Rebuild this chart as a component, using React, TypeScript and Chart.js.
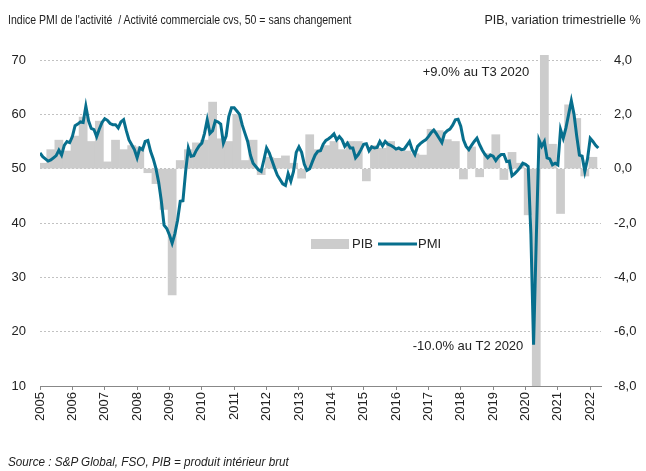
import React, { useEffect, useRef } from 'react';
import { Chart, registerables } from 'chart.js';

Chart.register(...registerables);

const FONT = '"Liberation Sans", Arial, sans-serif';

const YEARS = [2005, 2006, 2007, 2008, 2009, 2010, 2011, 2012, 2013, 2014, 2015, 2016, 2017, 2018, 2019, 2020, 2021, 2022];

// PMI, monthly
const PMI_2005 = [52.9, 52.2, 51.8, 51.4, 51.6, 52.0, 52.4, 53.4, 52.5, 54.3, 55.0, 54.8];
const PMI_2006 = [55.9, 57.9, 58.2, 58.6, 58.5, 61.5, 58.8, 57.4, 57.2, 55.9, 57.3, 58.5];
const PMI_2007 = [59.2, 58.9, 58.3, 58.1, 58.1, 57.5, 58.6, 59.0, 57.0, 55.3, 54.4, 53.5];
const PMI_2008 = [52.0, 53.8, 53.5, 55.0, 55.2, 53.2, 51.8, 50.0, 47.5, 44.0, 39.6, 39.0];
const PMI_2009 = [37.8, 36.3, 38.0, 40.5, 44.0, 44.1, 49.5, 53.8, 52.3, 52.4, 53.4, 54.2];
const PMI_2010 = [54.7, 56.5, 59.0, 56.5, 57.0, 58.8, 58.6, 58.2, 54.7, 56.0, 59.6, 61.2];
const PMI_2011 = [61.2, 60.6, 60.0, 58.0, 56.5, 55.0, 52.5, 51.0, 50.4, 49.8, 49.5, 51.6];
const PMI_2012 = [53.8, 52.9, 51.5, 50.1, 48.8, 48.0, 47.2, 46.9, 49.1, 47.7, 49.5, 53.0];
const PMI_2013 = [54.0, 53.0, 50.8, 49.7, 50.0, 51.3, 52.5, 53.2, 53.3, 54.5, 55.2, 55.5];
const PMI_2014 = [55.9, 56.4, 55.3, 55.9, 55.3, 54.1, 54.7, 53.8, 53.8, 52.0, 52.6, 53.5];
const PMI_2015 = [54.5, 54.6, 53.3, 54.0, 53.8, 53.9, 55.0, 54.2, 55.0, 54.5, 54.3, 54.0];
const PMI_2016 = [53.6, 53.8, 53.5, 53.6, 54.3, 55.0, 53.5, 52.6, 54.1, 54.6, 55.0, 55.3];
const PMI_2017 = [55.9, 56.6, 57.1, 56.4, 55.6, 54.8, 56.5, 57.0, 57.3, 58.0, 59.0, 59.1];
const PMI_2018 = [57.8, 55.3, 54.1, 53.5, 54.3, 55.0, 55.6, 54.4, 53.4, 52.6, 52.0, 52.5];
const PMI_2019 = [52.3, 51.5, 52.2, 52.6, 52.6, 51.3, 51.4, 48.7, 49.1, 49.6, 50.2, 51.0];
const PMI_2020 = [50.8, 50.4, 38.0, 17.6, 37.0, 55.3, 54.1, 55.0, 52.0, 51.8, 50.7, 51.0];
const PMI_2021 = [50.7, 57.2, 55.6, 57.5, 60.0, 62.5, 60.0, 56.0, 52.5, 52.3, 49.5, 51.8];
const PMI_2022 = [55.6, 55.0, 54.3, 53.8];

// PIB, quarterly change %
const PIB_2005 = [0.2, 0.7, 1.05, 0.65];
const PIB_2006 = [1.2, 1.9, 1.0, 1.75];
const PIB_2007 = [0.25, 1.05, 0.7, 0.85];
const PIB_2008 = [0.8, -0.15, -0.55, -1.5];
const PIB_2009 = [-4.65, 0.3, 0.7, 0.95];
const PIB_2010 = [1.05, 2.45, 1.1, 1.0];
const PIB_2011 = [2.0, 0.3, 1.05, -0.22];
const PIB_2012 = [0.42, 0.38, 0.47, 0.2];
const PIB_2013 = [-0.35, 1.25, 0.7, 0.85];
const PIB_2014 = [1.0, 0.7, 1.0, 1.0];
const PIB_2015 = [-0.45, 0.85, 0.75, 1.0];
const PIB_2016 = [0.75, 0.65, 0.55, 0.5];
const PIB_2017 = [1.45, 1.4, 1.07, 1.0];
const PIB_2018 = [-0.38, 0.8, -0.3, 0.55];
const PIB_2019 = [1.25, -0.4, 0.6, 0.2];
const PIB_2020 = [-1.7, -10.0, 9.0, 0.9];
const PIB_2021 = [-1.65, 2.35, 1.85, -0.27];
const PIB_2022 = [0.42];

const LEFT_TICKS = [10, 20, 30, 40, 50, 60, 70];
const RIGHT_TICKS = [-8, -6, -4, -2, 0, 2, 4];

const ANNOTATIONS = [
  { text: '+9.0% au T3 2020', month: 181.4, value: 3.53 },
  { text: '-10.0% au T2 2020', month: 179.2, value: -6.55 },
];

const PMI = [
  ...PMI_2005, ...PMI_2006, ...PMI_2007, ...PMI_2008, ...PMI_2009, ...PMI_2010,
  ...PMI_2011, ...PMI_2012, ...PMI_2013, ...PMI_2014, ...PMI_2015, ...PMI_2016,
  ...PMI_2017, ...PMI_2018, ...PMI_2019, ...PMI_2020, ...PMI_2021, ...PMI_2022,
];
const PIB = [
  ...PIB_2005, ...PIB_2006, ...PIB_2007, ...PIB_2008, ...PIB_2009, ...PIB_2010,
  ...PIB_2011, ...PIB_2012, ...PIB_2013, ...PIB_2014, ...PIB_2015, ...PIB_2016,
  ...PIB_2017, ...PIB_2018, ...PIB_2019, ...PIB_2020, ...PIB_2021, ...PIB_2022,
];

const LINE_COLOR = '#076f8d';
const BAR_COLOR = '#cccccc';

const overlayPlugin = {
  id: 'overlay',
  afterDatasetsDraw(chart: any) {
    const { ctx, scales, chartArea } = chart;
    const x = scales.x;
    const y1 = scales.y1;
    ctx.save();
    ctx.font = `13px ${FONT}`;
    ctx.fillStyle = '#222';
    ctx.textBaseline = 'middle';
    ctx.textAlign = 'right';
    for (const a of ANNOTATIONS) {
      ctx.fillText(a.text, x.getPixelForValue(a.month), y1.getPixelForValue(a.value));
    }
    // legend
    const lx = chartArea.left + 271;
    const ly = chartArea.top + 184;
    ctx.fillStyle = BAR_COLOR;
    ctx.fillRect(lx, ly - 5, 38, 10);
    ctx.fillStyle = '#222';
    ctx.textAlign = 'left';
    ctx.fillText('PIB', lx + 41, ly);
    ctx.strokeStyle = LINE_COLOR;
    ctx.lineWidth = 3;
    ctx.beginPath();
    ctx.moveTo(lx + 67, ly);
    ctx.lineTo(lx + 106, ly);
    ctx.stroke();
    ctx.fillText('PMI', lx + 107, ly);
    ctx.restore();
  },
};

export default function App() {
  const ref = useRef<HTMLCanvasElement>(null);
  useEffect(() => {
    document.body.style.margin = '0';
    Chart.defaults.font.family = FONT;
    const lastMonth = YEARS.length * 12 - 12 + PMI_2022.length;
    const chart = new Chart(ref.current as HTMLCanvasElement, {
      type: 'bar',
      data: {
        datasets: [
          {
            type: 'line',
            label: 'PMI',
            data: PMI.map((v, i) => ({ x: i, y: v })),
            borderColor: LINE_COLOR,
            borderWidth: 3,
            pointRadius: 0,
            tension: 0,
            yAxisID: 'y',
            order: 0,
          } as any,
          {
            type: 'bar',
            label: 'PIB',
            data: PIB.map((v, q) => ({ x: q * 3 + 1, y: v })),
            backgroundColor: BAR_COLOR,
            barPercentage: 1,
            categoryPercentage: 1,
            yAxisID: 'y1',
            order: 1,
            clip: { left: 0, top: 5, right: 0, bottom: 0 },
          } as any,
        ],
      },
      options: {
        responsive: false,
        animation: false,
        layout: { padding: { top: 60, bottom: 40, left: 0, right: 0 } },
        plugins: { legend: { display: false }, tooltip: { enabled: false } },
        scales: {
          x: {
            type: 'linear',
            min: 0,
            max: lastMonth,
            offset: false,
            grid: { drawOnChartArea: false, drawTicks: true, tickLength: 4, color: '#888', offset: false },
            border: { display: true, color: '#888', width: 1 },
            ticks: {
              minRotation: 90,
              maxRotation: 90,
              padding: 2,
              color: '#222',
              font: { size: 13, family: FONT },
              callback: (v: any) => String(YEARS[0] + Math.round(Number(v) / 12)),
            },
            afterBuildTicks: (scale: any) => {
              scale.ticks = YEARS.map((yr) => ({ value: (yr - YEARS[0]) * 12 }));
            },
            afterFit: (scale: any) => { scale.height = 45; },
          },
          y: {
            type: 'linear',
            position: 'left',
            min: 10,
            max: 70,
            grid: { color: '#c2c2c2', drawTicks: false, lineWidth: 1 },
            border: { display: false, dash: [2, 2] },
            ticks: {
              padding: 14,
              color: '#222',
              font: { size: 13, family: FONT },
            },
            afterBuildTicks: (scale: any) => {
              scale.ticks = LEFT_TICKS.map((v) => ({ value: v }));
            },
            afterFit: (scale: any) => { scale.width = 40; },
          },
          y1: {
            type: 'linear',
            position: 'right',
            min: -8,
            max: 4,
            grid: { drawOnChartArea: false, drawTicks: false },
            border: { display: false },
            ticks: {
              padding: 13,
              color: '#222',
              font: { size: 13, family: FONT },
              callback: (v: any) => Number(v).toFixed(1).replace('.', ','),
            },
            afterBuildTicks: (scale: any) => {
              scale.ticks = RIGHT_TICKS.map((v) => ({ value: v }));
            },
            afterFit: (scale: any) => { scale.width = 45; },
          },
        },
      } as any,
      plugins: [overlayPlugin],
    });
    return () => chart.destroy();
  }, []);

  return (
    <div style={{ position: 'relative', width: 646, height: 471, fontFamily: FONT, color: '#222', overflow: 'hidden' }}>
      <canvas ref={ref} width={646} height={471} style={{ position: 'absolute', left: 0, top: 0 }} />
      <div style={{ position: 'absolute', left: 8, top: 12, fontSize: 13, whiteSpace: 'pre', transform: 'scaleX(0.81)', transformOrigin: 'left top' }}>
        {"Indice PMI de l'activité  / Activité commerciale cvs, 50 = sans changement"}
      </div>
      <div style={{ position: 'absolute', right: 5, top: 12, fontSize: 13, whiteSpace: 'pre', transform: 'scaleX(0.96)', transformOrigin: 'right top' }}>
        PIB, variation trimestrielle %
      </div>
      <div style={{ position: 'absolute', left: 8, top: 454, fontSize: 13, fontStyle: 'italic', whiteSpace: 'pre', transform: 'scaleX(0.9)', transformOrigin: 'left top' }}>
        Source : S&amp;P Global, FSO, PIB = produit intérieur brut
      </div>
    </div>
  );
}
